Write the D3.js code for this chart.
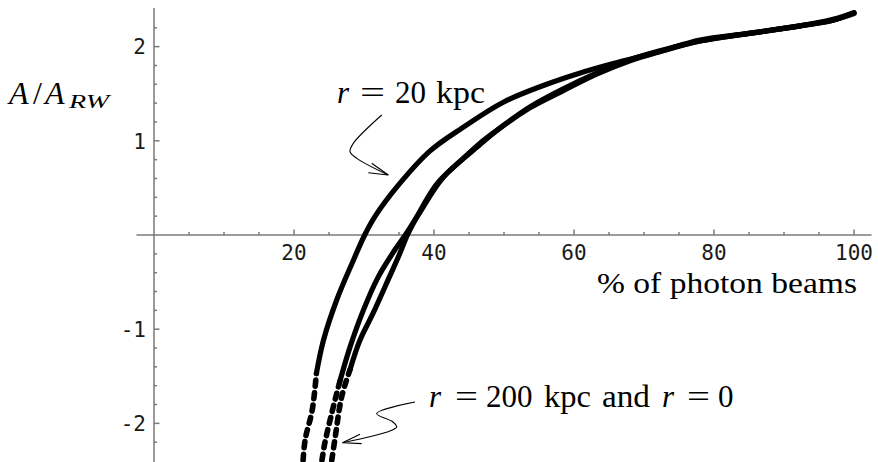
<!DOCTYPE html>
<html>
<head>
<meta charset="utf-8">
<script src="https://cdn.jsdelivr.net/npm/d3@7/dist/d3.min.js"></script>
<style>
  html, body { margin: 0; padding: 0; background: #fff; }
  svg { display: block; }
</style>
</head>
<body>
<svg id="chart" width="878" height="462"></svg>
<script>
// Percentage of photon beams (x) against amplification ratio A/A_RW (y)
const curveR20 = [
  [21.3, -2.39], [21.6, -2.17], [22.6, -1.86], [23.2, -1.47], [24.2, -1.12],
  [26.1, -0.69], [28.3, -0.30], [30.1, 0.00], [31.6, 0.20], [34.7, 0.51],
  [39.4, 0.89], [44.1, 1.14], [49.9, 1.41], [56.1, 1.60], [60.9, 1.72],
  [65.6, 1.82], [72.3, 1.95], [78.0, 2.07], [85.0, 2.14], [92.3, 2.22],
  [97.0, 2.28], [100.0, 2.36]
];
const curveR200 = [
  [24.0, -2.39], [24.4, -2.21], [25.4, -1.89], [26.6, -1.54], [28.0, -1.19],
  [29.9, -0.80], [32.0, -0.45], [34.3, -0.17], [35.9, 0.00], [37.8, 0.22],
  [41.3, 0.61], [46.1, 0.93], [49.0, 1.11], [53.7, 1.35], [58.4, 1.53],
  [63.3, 1.71], [68.0, 1.85], [72.0, 1.94], [78.0, 2.06], [85.0, 2.14],
  [92.3, 2.22], [97.0, 2.28], [100.0, 2.35]
];
const curveR0 = [
  [25.4, -2.39], [25.9, -2.14], [26.8, -1.72], [28.0, -1.43], [29.4, -1.12],
  [31.3, -0.83], [33.6, -0.45], [35.1, -0.20], [36.2, 0.00], [37.6, 0.20],
  [40.5, 0.55], [44.0, 0.80], [46.5, 0.97], [49.5, 1.14], [53.7, 1.36],
  [58.4, 1.55], [63.3, 1.72], [68.0, 1.86], [72.0, 1.95], [78.0, 2.06],
  [85.0, 2.14], [92.3, 2.22], [97.0, 2.29], [100.0, 2.36]
];

const xMajorTicks = [20, 40, 60, 80, 100];
const xMinorTicks = [5, 10, 15, 25, 30, 35, 45, 50, 55, 65, 70, 75, 85, 90, 95];
const yMajorTicks = [-2, -1, 1, 2];
const yMinorTicks = [-2.2, -1.8, -1.6, -1.4, -1.2, -0.8, -0.6, -0.4, -0.2,
                     0.2, 0.4, 0.6, 0.8, 1.2, 1.4, 1.6, 1.8, 2.2];
const xTickLabels = ["20", "40", "60", "80", "100"];
const yTickLabels = ["-2", "-1", "1", "2"];

// Callout arrows, in data coordinates
const arrowR20Shaft = [[32.53, 1.274], [28.47, 0.973], [28.0, 0.884], [28.96, 0.814], [33.47, 0.637]];
const arrowR20Head = [[31.1, 0.761], [33.47, 0.637], [30.61, 0.661]];
const arrowR200Shaft = [[37.29, -1.773], [31.81, -1.896], [34.14, -1.985], [34.67, -2.038], [33.71, -2.081], [26.93, -2.206]];
const arrowR200Head = [[29.43, -2.116], [26.93, -2.206], [29.67, -2.215]];

const svg = d3.select("#chart");
const x = d3.scaleLinear().domain([-2.5, 102.5]).range([136.5, 871.5]);
const y = d3.scaleLinear().domain([-2.41, 2.41]).range([462, 8]);

const axisColor = "#7a7a7a";
const axes = svg.append("g").attr("stroke", axisColor).attr("stroke-width", 1.5);

// x axis through A = 0, ticks pointing up
axes.append("line")
  .attr("x1", x(-2.5)).attr("x2", x(102.5))
  .attr("y1", y(0)).attr("y2", y(0));
axes.selectAll(".xminor").data(xMinorTicks).join("line")
  .attr("x1", d => x(d)).attr("x2", d => x(d))
  .attr("y1", y(0)).attr("y2", y(0) - 3);
axes.selectAll(".xmajor").data(xMajorTicks).join("line")
  .attr("x1", d => x(d)).attr("x2", d => x(d))
  .attr("y1", y(0)).attr("y2", y(0) - 5.5);

// y axis through 0 %, ticks pointing right
axes.append("line")
  .attr("x1", x(0)).attr("x2", x(0))
  .attr("y1", y(2.41)).attr("y2", y(-2.41));
axes.selectAll(".yminor").data(yMinorTicks).join("line")
  .attr("x1", x(0)).attr("x2", x(0) + 3)
  .attr("y1", d => y(d)).attr("y2", d => y(d));
axes.selectAll(".ymajor").data(yMajorTicks).join("line")
  .attr("x1", x(0)).attr("x2", x(0) + 5.5)
  .attr("y1", d => y(d)).attr("y2", d => y(d));

const tickFont = "'DejaVu Sans Mono', monospace";
svg.append("g").selectAll("text").data(xMajorTicks).join("text")
  .attr("x", d => x(d)).attr("y", y(0) + 25)
  .attr("text-anchor", "middle")
  .attr("font-family", tickFont).attr("font-size", 21).attr("fill", "#1a1a1a")
  .text((d, i) => xTickLabels[i]);
svg.append("g").selectAll("text").data(yMajorTicks).join("text")
  .attr("x", x(0) - 8).attr("y", d => y(d) + 7.7)
  .attr("text-anchor", "end")
  .attr("font-family", tickFont).attr("font-size", 21).attr("fill", "#1a1a1a")
  .text((d, i) => yTickLabels[i]);

// Curves: solid where the beams are dense, beaded where they thin out
const line = d3.line().x(d => x(d[0])).y(d => y(d[1])).curve(d3.curveCatmullRom.alpha(0.5));
const splitA = -1.4;
const curves = svg.append("g").attr("fill", "none").attr("stroke", "#000")
  .attr("stroke-linecap", "round").attr("stroke-linejoin", "round");
[curveR20, curveR200, curveR0].forEach(pts => {
  let idx = 0;
  pts.forEach((d, i) => { if (d[1] <= splitA) idx = i; });
  curves.append("path").attr("d", line(pts.slice(idx)))
    .attr("stroke-width", 5.2);
  curves.append("path").attr("d", line(pts.slice(0, idx + 1)))
    .attr("stroke-width", 5.6).attr("stroke-dasharray", "6 6.5");
});

// Callout arrows
const arrowLine = d3.line().x(d => x(d[0])).y(d => y(d[1])).curve(d3.curveCatmullRom.alpha(0.5));
const straight = d3.line().x(d => x(d[0])).y(d => y(d[1]));
const callouts = svg.append("g").attr("fill", "none").attr("stroke", "#000").attr("stroke-width", 1.1);
callouts.append("path").attr("d", arrowLine(arrowR20Shaft));
callouts.append("path").attr("d", straight(arrowR20Head));
callouts.append("path").attr("d", arrowLine(arrowR200Shaft));
callouts.append("path").attr("d", straight(arrowR200Head));

// Labels
const serif = "'Liberation Serif', 'Times New Roman', serif";
const labels = svg.append("g").attr("font-family", serif).attr("fill", "#000");

const lab1 = labels.append("text").attr("y", 102.7).attr("font-size", 31);
lab1.append("tspan").attr("x", 337).attr("font-style", "italic").text("r");
lab1.append("tspan").attr("x", 360).attr("textLength", 25).attr("lengthAdjust", "spacingAndGlyphs").text("=");
lab1.append("tspan").attr("x", 395).text("20");
lab1.append("tspan").attr("x", 436).attr("textLength", 49).attr("lengthAdjust", "spacingAndGlyphs").text("kpc");

const lab2 = labels.append("text").attr("y", 406.7).attr("font-size", 31);
lab2.append("tspan").attr("x", 429).attr("font-style", "italic").text("r");
lab2.append("tspan").attr("x", 455).attr("textLength", 23).attr("lengthAdjust", "spacingAndGlyphs").text("=");
lab2.append("tspan").attr("x", 486).text("200");
lab2.append("tspan").attr("x", 544).attr("textLength", 47).attr("lengthAdjust", "spacingAndGlyphs").text("kpc");
lab2.append("tspan").attr("x", 602).attr("textLength", 48).attr("lengthAdjust", "spacingAndGlyphs").text("and");
lab2.append("tspan").attr("x", 662).attr("font-style", "italic").text("r");
lab2.append("tspan").attr("x", 687).attr("textLength", 23).attr("lengthAdjust", "spacingAndGlyphs").text("=");
lab2.append("tspan").attr("x", 718).text("0");

// y-axis title A / A_RW
const yTitle = labels.append("text").attr("y", 104).attr("font-size", 32);
yTitle.append("tspan").attr("x", 9).attr("font-style", "italic").text("A");
yTitle.append("tspan").attr("x", 33).text("/");
yTitle.append("tspan").attr("x", 45).attr("font-style", "italic").text("A");
yTitle.append("tspan").attr("x", 69).attr("dy", 3.5).attr("font-size", 19)
  .attr("font-style", "italic").attr("textLength", 40).attr("lengthAdjust", "spacingAndGlyphs").text("RW");

// x-axis title
labels.append("text").attr("x", 857).attr("y", 293).attr("font-size", 30)
  .attr("text-anchor", "end")
  .attr("textLength", 260).attr("lengthAdjust", "spacingAndGlyphs")
  .text("% of photon beams");
</script>
</body>
</html>
